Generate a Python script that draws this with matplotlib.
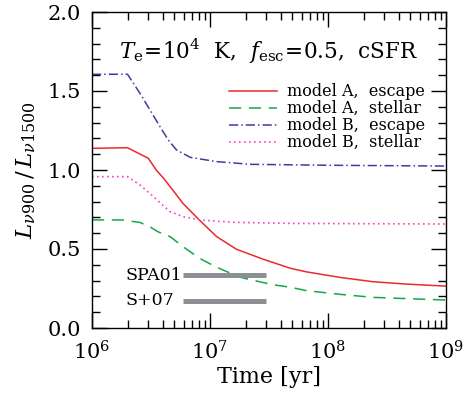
# Razão L_nu900 / L_nu1500 em função do tempo
import numpy as np
import matplotlib
matplotlib.use('Agg')
import matplotlib.pyplot as plt
from matplotlib.ticker import LogLocator, MultipleLocator, NullFormatter

plt.rcParams['font.family'] = 'DejaVu Serif'
plt.rcParams['mathtext.fontset'] = 'dejavuserif'

# dados (tempo em anos)
t_a_esc = [1e6, 2e6, 3e6, 3.5e6, 4e6, 4.6e6, 5.9e6, 8e6, 1.14e7, 1.68e7, 2.83e7,
           4.8e7, 6.6e7, 1.27e8, 2.4e8, 4.6e8, 1e9]
a_escape = [1.137, 1.141, 1.074, 1.0, 0.952, 0.894, 0.789, 0.688, 0.578, 0.498, 0.435,
            0.378, 0.355, 0.32, 0.293, 0.278, 0.265]

t_a_st = [1e6, 1.8e6, 2.55e6, 3.1e6, 3.6e6, 4.6e6, 5.9e6, 8.2e6, 1.14e7, 1.8e7, 3.4e7,
          4.8e7, 6.6e7, 1.27e8, 2.4e8, 4.6e8, 1e9]
a_stellar = [0.684, 0.684, 0.668, 0.64, 0.61, 0.578, 0.515, 0.44, 0.384, 0.321, 0.274,
             0.258, 0.236, 0.213, 0.194, 0.186, 0.177]

t_b_esc = [1e6, 2e6, 2.55e6, 3.1e6, 3.77e6, 4.43e6, 5.2e6, 6.8e6, 1.14e7, 2.2e7,
           1e8, 1e9]
b_escape = [1.606, 1.606, 1.485, 1.38, 1.274, 1.19, 1.127, 1.08, 1.053, 1.036,
            1.03, 1.025]

t_b_st = [1e6, 2e6, 2.55e6, 3.2e6, 4e6, 4.6e6, 5.9e6, 8.2e6, 1.57e7, 4.8e7, 1e9]
b_stellar = [0.958, 0.958, 0.905, 0.842, 0.775, 0.736, 0.705, 0.684, 0.669, 0.662,
             0.658]

obs_names = ['SPA01', 'S+07']
obs_value = [0.333, 0.171]
obs_tmin = [5.94e6, 5.94e6]
obs_tmax = [2.96e7, 2.96e7]

fig = plt.figure(figsize=(4.65, 3.96), dpi=100)
ax = fig.add_axes([92/465, 1-328/396, 354/465, 316/396])

ax.plot(t_a_esc, a_escape, color='#ea2a2e', lw=1.1, label='model A,  escape')
ax.plot(t_a_st, a_stellar, color='#16a84a', lw=1.1, ls=(0, (8, 5)), label='model A,  stellar')
ax.plot(t_b_esc, b_escape, color='#3a3f9e', lw=1.1, ls=(0, (6, 2, 1, 2)), label='model B,  escape')
ax.plot(t_b_st, b_stellar, color='#ff3fbf', lw=1.2, ls=(0, (1, 2)), label='model B,  stellar')

for nome, v, t0, t1 in zip(obs_names, obs_value, obs_tmin, obs_tmax):
    ax.plot([t0, t1], [v, v], color='#8c8f94', lw=3.6, solid_capstyle='butt')
    ax.text(1.94e6, v, nome, ha='left', va='center', fontsize=12.5)

ax.set_xscale('log')
ax.set_xlim(1e6, 1e9)
ax.set_ylim(0, 2.0)
ax.xaxis.set_major_locator(LogLocator(base=10))
ax.xaxis.set_minor_locator(LogLocator(base=10, subs=np.arange(2, 10)))
ax.xaxis.set_minor_formatter(NullFormatter())
ax.yaxis.set_major_locator(MultipleLocator(0.5))
ax.yaxis.set_minor_locator(MultipleLocator(0.1))
ax.yaxis.set_major_formatter(plt.FormatStrFormatter('%.1f'))

ax.tick_params(which='both', direction='in', top=True, right=True, width=1.0)
ax.tick_params(which='major', length=11, labelsize=15, pad=8)
ax.tick_params(axis='x', which='major', pad=9)
ax.tick_params(which='minor', length=6)
for s in ax.spines.values():
    s.set_linewidth(1.0)

ax.set_xlabel('Time [yr]', fontsize=16, labelpad=2)
ax.set_ylabel(r'$L_{\nu900}\,/\,L_{\nu1500}$', fontsize=16.5, labelpad=7)

ax.text(0.5, 0.875, r'$T_{\rm e}\!=\!10^4$  K,  $f_{\rm esc}\!=\!0.5$,  cSFR',
        transform=ax.transAxes, ha='center', va='center', fontsize=15.5)

ax.legend(loc='upper right', bbox_to_anchor=(0.963, 0.80), frameon=False,
          fontsize=11.5, handlelength=3.0, labelspacing=0.0, borderpad=0,
          handletextpad=0.6)

plt.savefig('out.png', dpi=100)
